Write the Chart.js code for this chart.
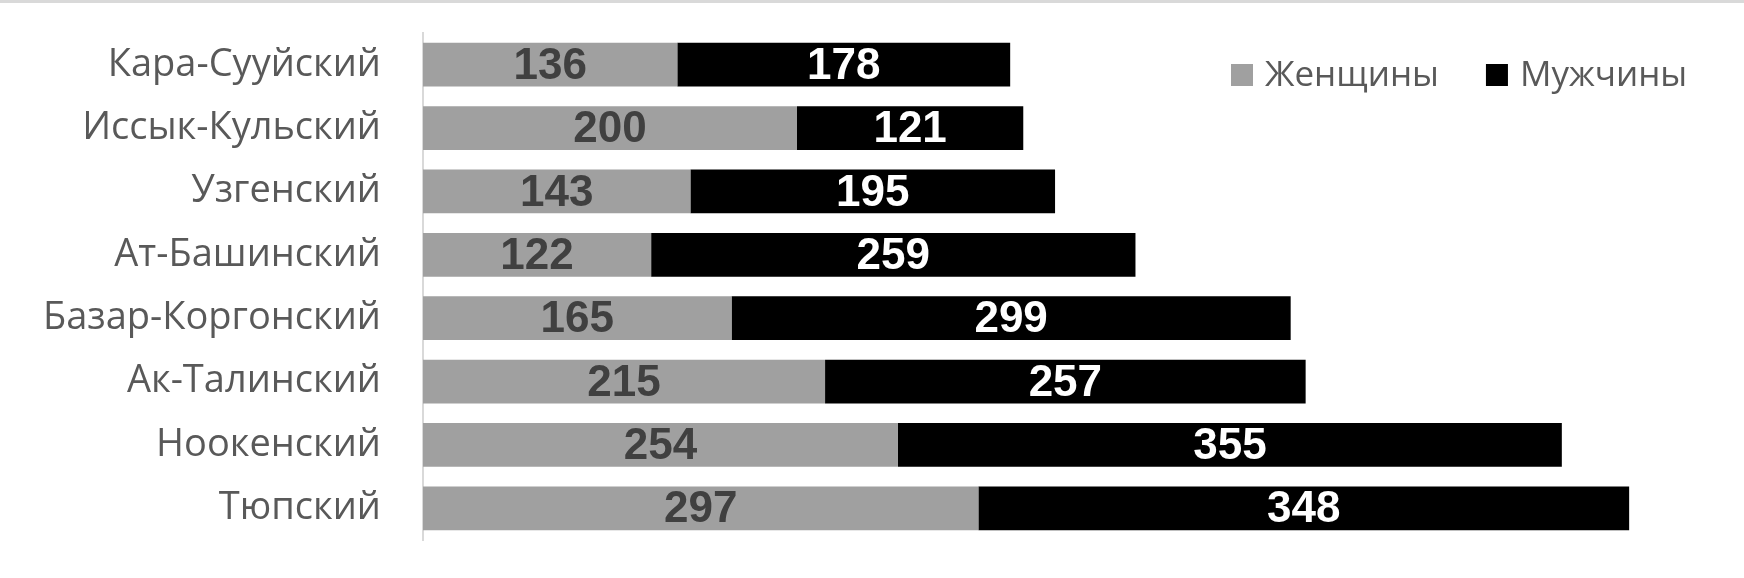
<!DOCTYPE html>
<html>
<head>
<meta charset="utf-8">
<script src="https://cdn.jsdelivr.net/npm/chart.js@4"></script>
<style>
  body { margin: 0; background: #fff; }
  #wrap { position: relative; width: 1744px; height: 578px; }
  #topline { position: absolute; left: 0; top: 0; width: 1744px; height: 3px; background: #d9d9d9; }
</style>
</head>
<body>
<div id="wrap">
  <canvas id="districtChart"></canvas>
  <div id="topline"></div>
</div>
<script>
// district names (top to bottom)
const districts = ["Кара-Сууйский", "Иссык-Кульский", "Узгенский", "Ат-Башинский",
                   "Базар-Коргонский", "Ак-Талинский", "Ноокенский", "Тюпский"];
const seriesNames = ["Женщины", "Мужчины"];
const women = [136, 200, 143, 122, 165, 215, 254, 297];
const men = [178, 121, 195, 259, 299, 257, 355, 348];

const textFont = "'Open Sans', 'Liberation Sans', sans-serif";
const valueFont = "'Liberation Sans', Arial, sans-serif";

// value labels in the middle of each bar
const barValues = {
    id: "barValues",
    afterDatasetsDraw(chart) {
        const ctx = chart.ctx;
        ctx.save();
        ctx.font = "bold 44px " + valueFont;
        ctx.textAlign = "center";
        ctx.textBaseline = "middle";
        chart.data.datasets.forEach((ds, i) => {
            const meta = chart.getDatasetMeta(i);
            ctx.fillStyle = i === 0 ? "#404040" : "#ffffff";
            meta.data.forEach((bar, j) => {
                const cx = (bar.x + bar.base) / 2;
                ctx.fillText(String(ds.data[j]), cx, bar.y + 2);
            });
        });
        ctx.restore();
    }
};

// legend drawn inside the plot, top right
const innerLegend = {
    id: "innerLegend",
    afterDraw(chart) {
        const ctx = chart.ctx;
        ctx.save();
        ctx.font = "35px " + textFont;
        ctx.textBaseline = "middle";
        let x = 1231;
        const y = 75;
        chart.data.datasets.forEach(ds => {
            ctx.fillStyle = ds.backgroundColor;
            ctx.fillRect(x, y - 11, 22, 22);
            ctx.fillStyle = "#595959";
            ctx.fillText(ds.label, x + 34, y + 1);
            x += 34 + ctx.measureText(ds.label).width + 47;
        });
        ctx.restore();
    }
};

new Chart(document.getElementById("districtChart").getContext("2d"), {
    type: "bar",
    data: {
        labels: districts,
        datasets: [{
            label: seriesNames[0],
            data: women,
            backgroundColor: "#a0a0a0",
            barPercentage: 0.69,
            categoryPercentage: 1
        }, {
            label: seriesNames[1],
            data: men,
            backgroundColor: "#000000",
            barPercentage: 0.69,
            categoryPercentage: 1
        }]
    },
    options: {
        indexAxis: "y",
        responsive: true,
        maintainAspectRatio: false,
        animation: false,
        layout: {
            padding: { top: 33, bottom: 38, left: 0, right: 12 }
        },
        plugins: {
            legend: { display: false },
            tooltip: { enabled: false }
        },
        scales: {
            x: {
                stacked: true,
                display: false,
                min: 0,
                max: 700
            },
            y: {
                stacked: true,
                grid: { display: false, drawTicks: false },
                border: { display: true, color: "#d9d9d9", width: 2 },
                ticks: {
                    padding: 42,
                    color: "#595959",
                    font: { family: textFont, size: 38 }
                },
                afterFit: function(scale) {
                    scale.width = 423;
                    scale.paddingTop = 0;
                    scale.paddingBottom = 0;
                }
            }
        }
    },
    plugins: [barValues, innerLegend]
});
</script>
</body>
</html>
